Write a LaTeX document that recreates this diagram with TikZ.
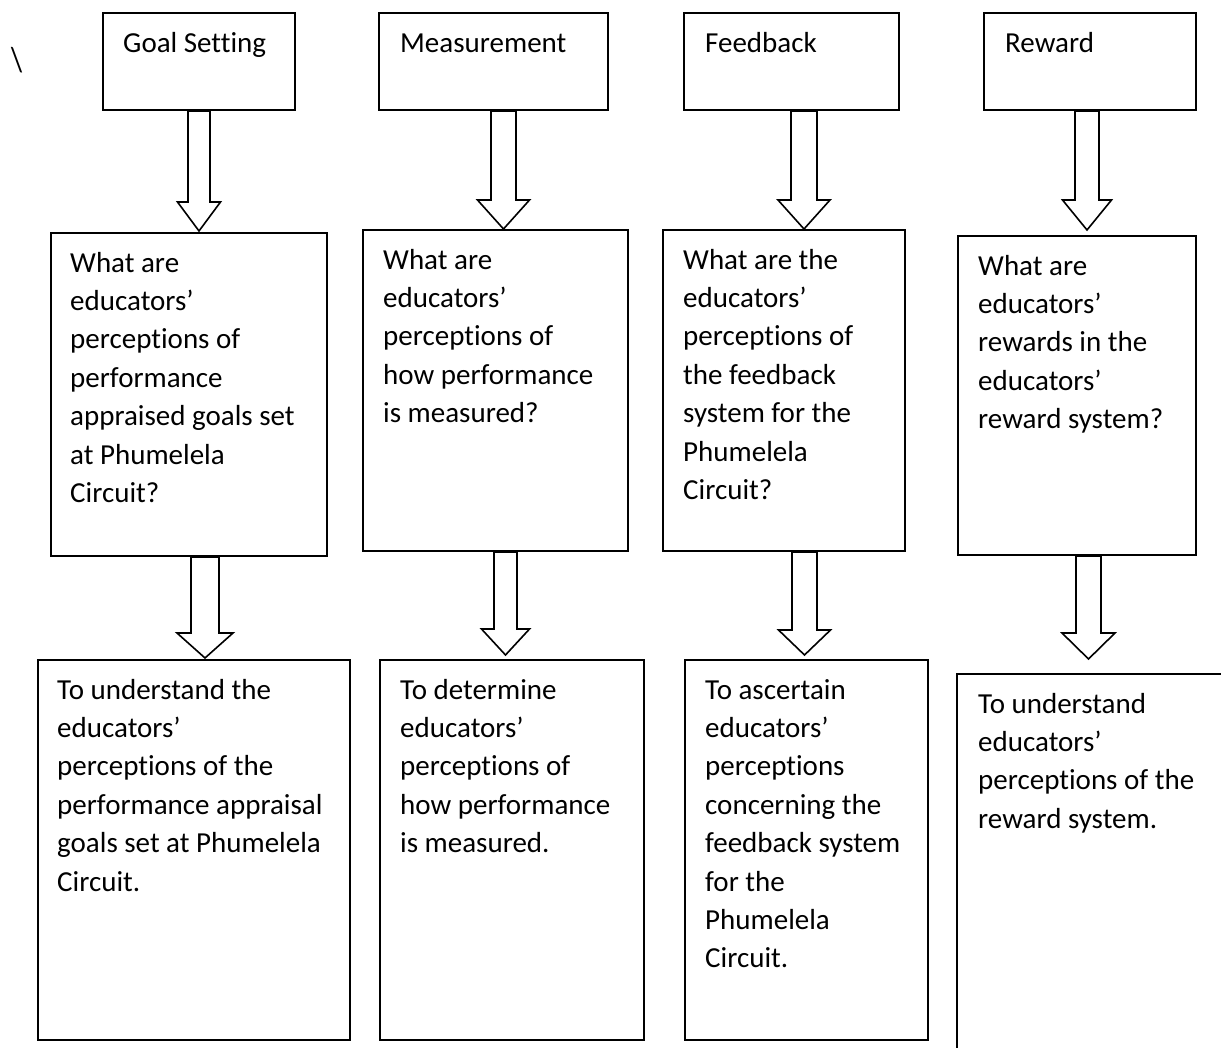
\documentclass[tikz,border=0pt]{standalone}
\usepackage{fontspec}
\setmainfont{Carlito}[Ligatures=NoCommon]
\usepackage{tikz}
\usetikzlibrary{calc}

\begin{document}
\begin{tikzpicture}[x=1pt,y=-1pt,
    box/.style={draw,line width=2pt,anchor=north west,inner sep=0pt},
    txt/.style={anchor=north west,inner sep=0pt,align=left,
      font=\fontsize{29}{38.4}\selectfont},
    hollow/.style={draw,line width=1.6pt,fill=white,line join=miter}]
  \useasboundingbox (0,0) rectangle (1221,1048);
  \clip (0,0) rectangle (1221,1048);
  \node[txt,anchor=base west,yscale=1.2] (bs) at (11,72) {\textbackslash};
  % headings
  \node[box,minimum width=192,minimum height=97] (gs) at (102,12) {};
  \node[box,minimum width=229,minimum height=97] (ms) at (378,12) {};
  \node[box,minimum width=215,minimum height=97] (fb) at (683,12) {};
  \node[box,minimum width=212,minimum height=97] (rw) at (983,12) {};
  \node[txt] (gst) at ([shift={(21,13)}]gs.north west) {\strut Goal Setting};
  \node[txt] (mst) at ([shift={(22,13)}]ms.north west) {\strut Measurement};
  \node[txt] (fbt) at ([shift={(22,13)}]fb.north west) {\strut Feedback};
  \node[txt] (rwt) at ([shift={(22,13)}]rw.north west) {\strut Reward};
  % questions
  \node[box,minimum width=276,minimum height=323] (gq) at (50,232) {};
  \node[box,minimum width=265,minimum height=321] (mq) at (362,229) {};
  \node[box,minimum width=242,minimum height=321] (fq) at (662,229) {};
  \node[box,minimum width=238,minimum height=319] (rq) at (957,235) {};
  \node[txt] (gqt) at ([shift={(20,13)}]gq.north west)
    {\strut What are\\educators’\\perceptions of\\performance\\appraised goals set\\at Phumelela\\Circuit?};
  \node[txt] (mqt) at ([shift={(21,13)}]mq.north west)
    {\strut What are\\educators’\\perceptions of\\how performance\\is measured?};
  \node[txt] (fqt) at ([shift={(21,13)}]fq.north west)
    {\strut What are the\\educators’\\perceptions of\\the feedback\\system for the\\Phumelela\\Circuit?};
  \node[txt] (rqt) at ([shift={(21,13)}]rq.north west)
    {\strut What are\\educators’\\rewards in the\\educators’\\reward system?};
  % aims
  \node[box,minimum width=312,minimum height=380] (ga) at (37,659) {};
  \node[box,minimum width=264,minimum height=380] (ma) at (379,659) {};
  \node[box,minimum width=243,minimum height=380] (fa) at (684,659) {};
  \node[box,minimum width=300,minimum height=420] (ra) at (956,673) {};
  \node[txt] (gat) at ([shift={(20,13)}]ga.north west)
    {\strut To understand the\\educators’\\perceptions of the\\performance appraisal\\goals set at Phumelela\\Circuit.};
  \node[txt] (mat) at ([shift={(21,13)}]ma.north west)
    {\strut To determine\\educators’\\perceptions of\\how performance\\is measured.};
  \node[txt] (fat) at ([shift={(21,13)}]fa.north west)
    {\strut To ascertain\\educators’\\perceptions\\concerning the\\feedback system\\for the\\Phumelela\\Circuit.};
  \node[txt] (rat) at ([shift={(22,13)}]ra.north west)
    {\strut To understand\\educators’\\perceptions of the\\reward system.};
  % block arrows
  \foreach \cx/\sw/\hw/\hb/\gap/\src/\dst in {199/11/21.5/202/1/gs/gq,
      503.5/12.5/26/200/0/ms/mq, 804/13/26/200/0/fb/fq, 1087/12/24.5/200/5/rw/rq,
      205/14/28/633/1/gq/ga, 505.5/11.5/24/629/4/mq/ma,
      804.5/12.5/26/630/4/fq/fa, 1088.5/12.5/26.5/633/14/rq/ra}
    \draw[hollow] (\cx-\sw,0 |- \src.south) -- (\cx-\sw,\hb) -- (\cx-\hw,\hb)
      -- ($(\cx,0 |- \dst.north)+(0,-\gap)$) -- (\cx+\hw,\hb) -- (\cx+\sw,\hb)
      -- (\cx+\sw,0 |- \src.south) -- cycle;
\end{tikzpicture}
\end{document}
